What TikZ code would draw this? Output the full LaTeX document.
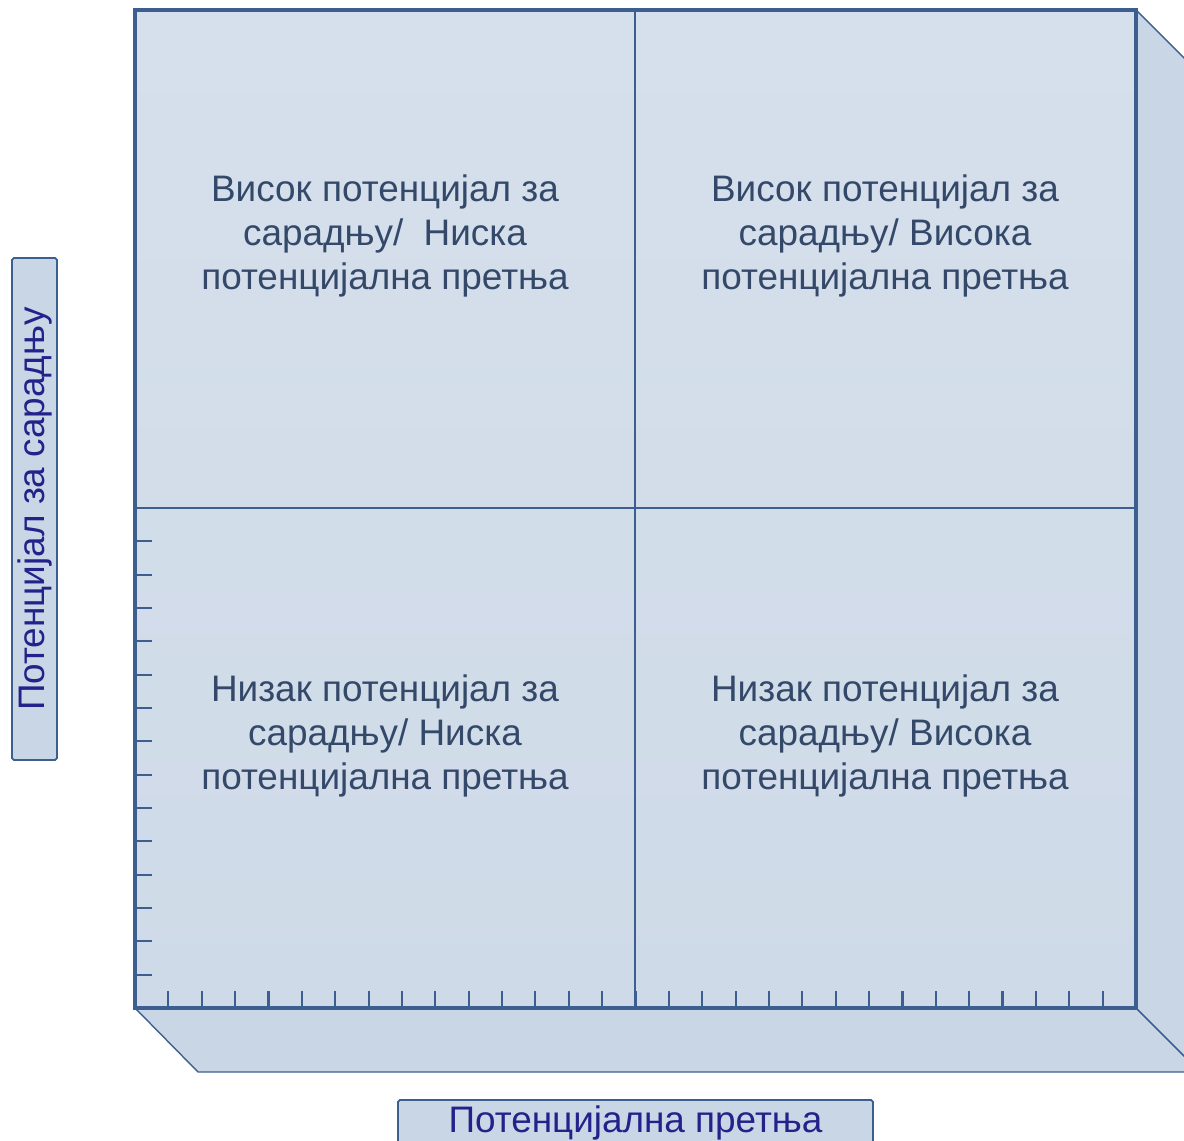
\documentclass[tikz,border=0pt]{standalone}
\usepackage{fontspec}
\setmainfont{Liberation Sans}
\definecolor{faceblue}{HTML}{D6E0EC}
\definecolor{facebluedark}{HTML}{CFDAE8}
\definecolor{sideblue}{HTML}{C9D6E6}
\definecolor{lineblue}{HTML}{3D5F8F}
\definecolor{quadgray}{HTML}{34496A}
\definecolor{axisnavy}{HTML}{22228A}
\tikzset{
  sideedge/.style={draw=lineblue, line width=0.8pt, fill=sideblue},
  boxframe/.style={draw=lineblue, line width=2pt},
  divider/.style={draw=lineblue, line width=1.2pt},
  tickmark/.style={draw=lineblue, line width=1.2pt},
  quadtext/.style={align=center, text=quadgray, font=\fontsize{21}{25}\selectfont},
  axislabel/.style={draw=lineblue, line width=1pt, fill=sideblue, rounded corners=1pt,
    text=axisnavy, font=\fontsize{21}{25}\selectfont, inner sep=0pt}
}
\begin{document}
\begin{tikzpicture}[x=0.02cm, y=-0.02cm]
	\useasboundingbox (0,0) rectangle (1184,1141);
	% depth of the box
	\draw[sideedge] (135,1008) -- (1136,1008) -- (1200,1072) -- (198,1072) -- cycle;
	\draw[sideedge] (1136,10) -- (1200,74) -- (1200,1072) -- (1136,1008) -- cycle;
	% front face
	\shade[top color=faceblue, bottom color=facebluedark] (135,10) rectangle (1136,1008);
	\draw[divider] (635,10) -- (635,1008) (135,508) -- (1136,508);
	\foreach \k in {1,...,14} \draw[tickmark] (135,{508+\k*33.333}) -- ++(17,0);
	\foreach \k in {1,...,29} \draw[tickmark] ({135+\k*33.367},1008) -- ++(0,-17);
	\draw[boxframe] (135,10) rectangle (1136,1008);
	% quadrants
	\node[quadtext] (hilo) at (385,236) {Висок потенцијал за\\сарадњу/\ \ Ниска\\потенцијална претња};
	\node[quadtext] (hihi) at (885,236) {Висок потенцијал за\\сарадњу/ Висока\\потенцијална претња};
	\node[quadtext] (lolo) at (385,736) {Низак потенцијал за\\сарадњу/ Ниска\\потенцијална претња};
	\node[quadtext] (lohi) at (885,736) {Низак потенцијал за\\сарадњу/ Висока\\потенцијална претња};
	% axis labels
	\node[axislabel, rotate=90, minimum width=10.04cm, minimum height=0.9cm] (ylab) at (34.5,509) {Потенцијал за сарадњу};
	\node[axislabel, minimum width=9.5cm, minimum height=0.9cm] (xlab) at (635.5,1122.5) {Потенцијална претња};
\end{tikzpicture}
\end{document}
